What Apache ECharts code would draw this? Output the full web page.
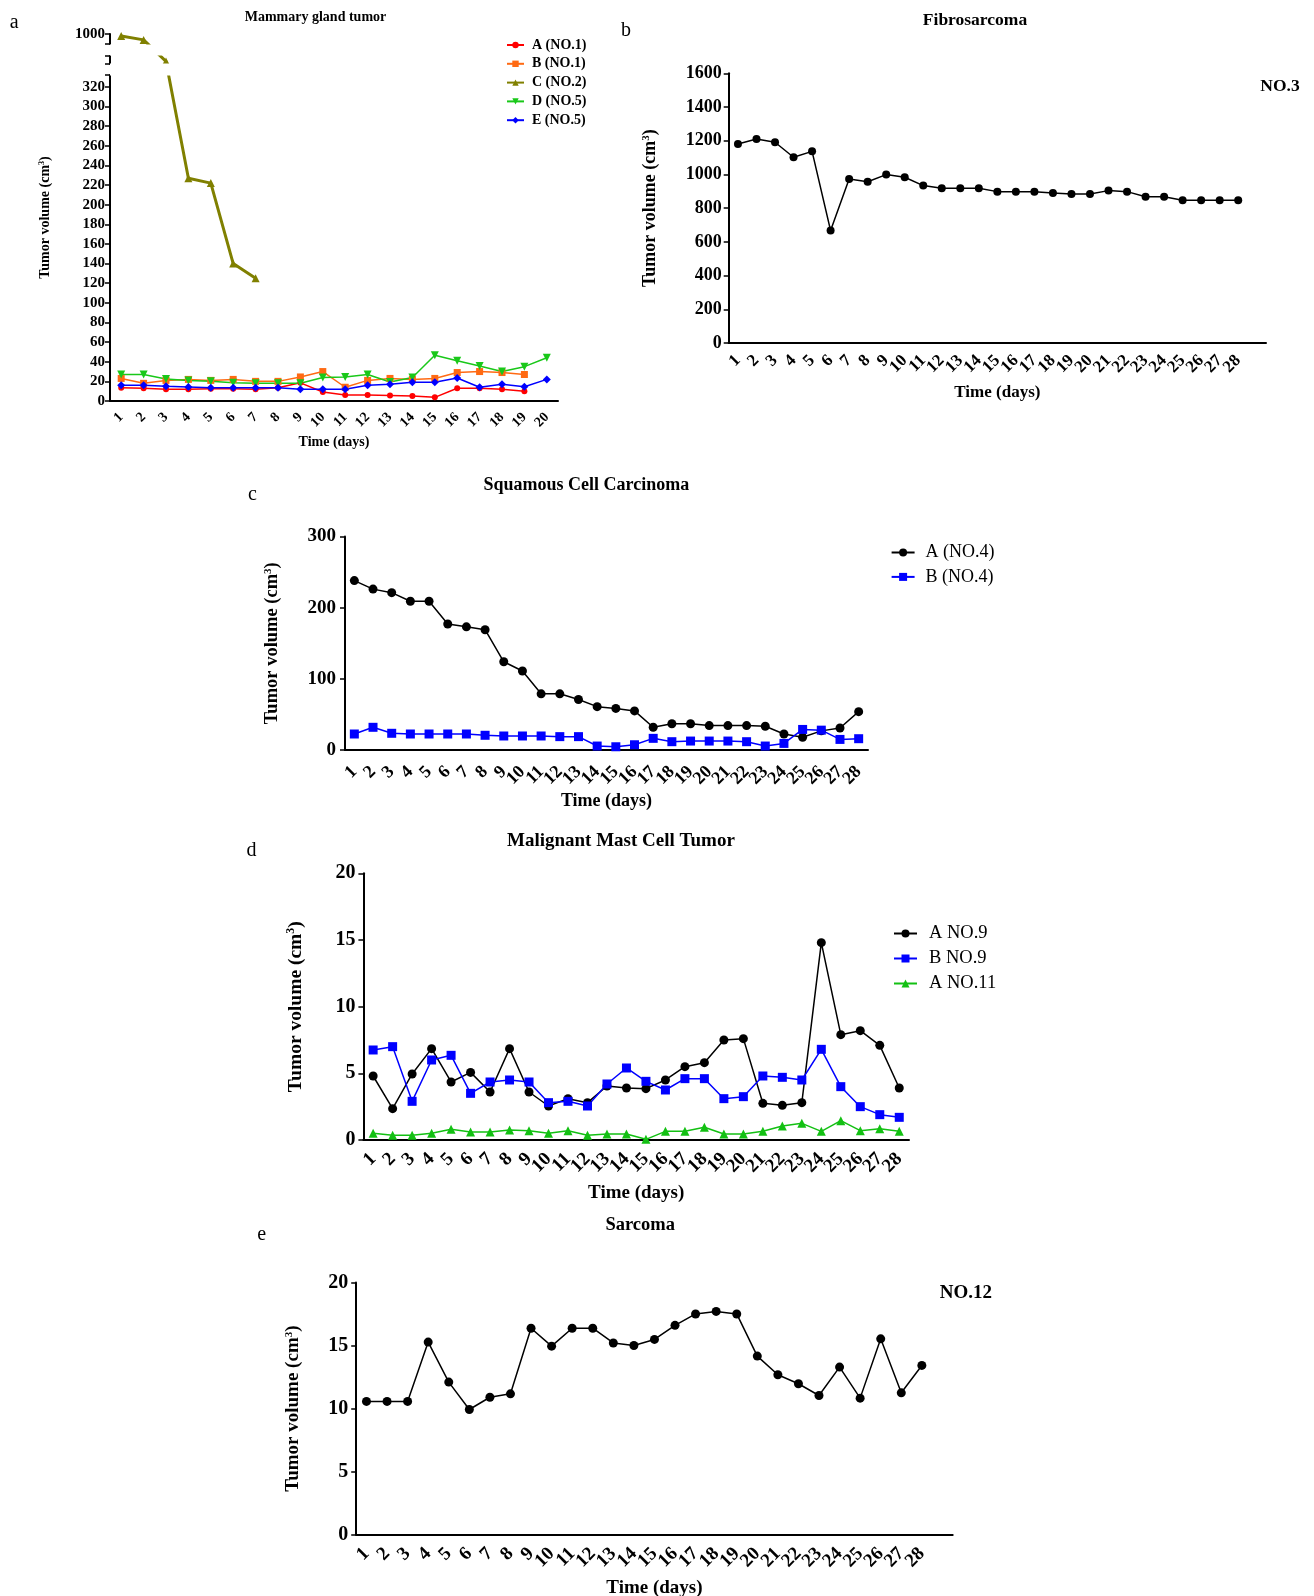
<!DOCTYPE html>
<html><head><meta charset="utf-8">
<script src="https://cdn.jsdelivr.net/npm/echarts@6/dist/echarts.min.js"></script>
<style>html,body{margin:0;padding:0;background:#fff}#c{width:1314px;height:1596px}</style>
</head><body><div id="c"></div>
<script>
const F = '"Liberation Serif","Times New Roman",serif';

// ---- data ----
const days20 = ['1','2','3','4','5','6','7','8','9','10','11','12','13','14','15','16','17','18','19','20'];
const days28 = ['1','2','3','4','5','6','7','8','9','10','11','12','13','14','15','16','17','18','19','20','21','22','23','24','25','26','27','28'];

// a: Mammary gland tumor
const aTicks = [0,20,40,60,80,100,120,140,160,180,200,220,240,260,280,300,320,1000];
const aA = [13.6,13,12,12,12.5,12.5,12,13.6,18.5,9.2,6,6,5.5,5,3.7,13,13,12,10];
const aB = [23,18,21,22,21,22,20,20,24.5,30,14,21,23,22,23,29,30,29,27];
const aC = [998,994,602,227,222,140,125];
const aD = [27,27,22.5,21,20,18.7,18,18,18,24,24.5,27,19.4,24,46.6,41,35.7,30,35,44];
const aE = [16,16,15,14.3,13.6,13.6,13.6,13.6,12,12,12,16,17,19,19,23.5,14,17,14.6,22];

// b: Fibrosarcoma
const bV = [1181,1210,1191,1102,1137,667,973,957,999,983,934,918,918,918,898,898,898,890,884,884,904,898,868,868,847,847,847,847];

// c: Squamous Cell Carcinoma
const cA = [238,226,221,209,209,177,173,169,124,111,79,79,71,61,58.5,55,32,37,37,34.4,34.4,34.4,33.5,22.6,18,27,31,54];
const cB = [22.6,32,23.6,22.6,22.6,22.6,22.6,20.8,19.8,19.8,19.8,18.9,18.9,5.7,4.7,7.5,16.5,11.8,12.7,12.7,12.7,11.8,5.7,9.4,29,28,15,16];

// d: Malignant Mast Cell Tumor
const dA = [4.8,2.35,4.95,6.85,4.35,5.07,3.6,6.85,3.6,2.55,3.1,2.8,4.05,3.9,3.85,4.5,5.5,5.8,7.5,7.6,2.75,2.6,2.8,14.8,7.9,8.2,7.1,3.9];
const dB = [6.75,7.0,2.9,6.0,6.35,3.5,4.35,4.5,4.35,2.8,2.9,2.55,4.2,5.4,4.4,3.75,4.6,4.6,3.1,3.25,4.8,4.7,4.5,6.8,4.0,2.5,1.9,1.7];
const dC = [0.5,0.35,0.35,0.5,0.8,0.6,0.6,0.75,0.7,0.5,0.7,0.35,0.45,0.45,0.05,0.65,0.65,0.95,0.45,0.45,0.65,1.05,1.25,0.65,1.45,0.7,0.85,0.65];

// e: Sarcoma
const eV = [10.57,10.57,10.57,15.27,12.1,9.93,10.9,11.17,16.37,14.95,16.37,16.37,15.2,15.0,15.48,16.6,17.5,17.7,17.5,14.16,12.68,11.97,11.04,13.29,10.83,15.53,11.25,13.42];

// ---- helpers ----
const plain = v => String(v);

function xAx(gi, cats, fs, margin, gap) {
  return {
    type: 'category', gridIndex: gi, data: cats, boundaryGap: true,
    name: 'Time (days)', nameLocation: 'middle', nameGap: gap,
    nameTextStyle: {fontFamily: F, fontWeight: 'bold', fontSize: fs, color: '#000'},
    axisLine: {onZero: false, lineStyle: {color: '#000', width: 2}},
    axisTick: {alignWithLabel: true, interval: (i, v) => v !== '', length: 5, lineStyle: {color: '#000', width: 1.5}},
    axisLabel: {interval: 0, rotate: 45, margin: margin, hideOverlap: false,
      fontFamily: F, fontWeight: 'bold', fontSize: fs, color: '#000'},
    splitLine: {show: false}
  };
}
function yAx(gi, extra, fs, nfs, gap, margin) {
  const o = {
    type: 'value', gridIndex: gi,
    name: 'Tumor volume (cm{s|3})', nameLocation: 'middle', nameRotate: 90, nameGap: gap,
    nameTextStyle: {fontFamily: F, fontWeight: 'bold', fontSize: nfs, color: '#000',
      rich: {s: {fontFamily: F, fontWeight: 'bold', fontSize: Math.round(nfs * 0.6), color: '#000', padding: [0, 0, Math.round(nfs * 0.45), 0]}}},
    axisLine: {show: true, lineStyle: {color: '#000', width: 2}},
    axisTick: {show: true, length: 5, lineStyle: {color: '#000', width: 1.5}},
    axisLabel: {formatter: plain, fontFamily: F, fontWeight: 'bold', fontSize: fs, color: '#000', margin: margin,
      showMinLabel: true, showMaxLabel: true},
    splitLine: {show: false}
  };
  Object.keys(extra).forEach(k => {
    if (k === 'axisLabel' || k === 'axisTick') o[k] = Object.assign(o[k], extra[k]);
    else o[k] = extra[k];
  });
  return o;
}
function ln(name, xi, vals, color, symbol, size, width, extra) {
  return Object.assign({
    type: 'line', name: name, xAxisIndex: xi, yAxisIndex: xi,
    data: vals, symbol: symbol, symbolSize: size,
    showSymbol: true, showAllSymbol: true,
    lineStyle: {color: color, width: width}, itemStyle: {color: color},
    emphasis: {disabled: true}
  }, extra || {});
}
function txt(x, y, t, size, bold) {
  return {type: 'text', x: x, y: y, style: {text: t, fontFamily: F, fontSize: size,
    fontWeight: bold ? 'bold' : 'normal', fill: '#000', align: 'center', verticalAlign: 'middle'}};
}

const chart = echarts.init(document.getElementById('c'), null, {renderer: 'canvas'});
chart.setOption({
  animation: false,
  backgroundColor: '#fff',
  grid: [
    {left: 110, top: 34, width: 448, height: 367, outerBoundsMode: 'none'},
    {left: 728.7, top: 73.3, width: 537.3, height: 269.7, outerBoundsMode: 'none'},
    {left: 345, top: 536.4, width: 523, height: 213.7, outerBoundsMode: 'none'},
    {left: 363.4, top: 873.3, width: 545.6, height: 266.7, outerBoundsMode: 'none'},
    {left: 356.2, top: 1282.4, width: 596.5, height: 252.4, outerBoundsMode: 'none'}
  ],
  xAxis: [
    xAx(0, days20, 14, 14, 34),
    xAx(1, days28.concat(['']), 17, 15, 41),
    xAx(2, days28, 18, 19, 42),
    xAx(3, days28, 19, 16, 44),
    xAx(4, days28.concat(['']), 19, 16, 44)
  ],
  yAxis: [
    yAx(0, {min: 0, max: 1000,
      breaks: [{start: 332, end: 600, gap: '3.2%'}, {start: 608, end: 990, gap: '3.2%'}],
      breakArea: {show: true, expandOnClick: false, zigzagAmplitude: 0, zigzagZ: 100,
        itemStyle: {color: '#fff', borderWidth: 0, borderColor: '#fff', opacity: 1}},
      axisLabel: {customValues: aTicks},
      axisTick: {customValues: aTicks.concat([332, 600, 608, 990])}
    }, 15, 14, 58, 5),
    yAx(1, {min: 0, max: 1600, interval: 200}, 18, 18, 69, 7),
    yAx(2, {min: 0, max: 300, interval: 100}, 19, 18.5, 63, 9),
    yAx(3, {min: 0, max: 20, interval: 5}, 20, 19.5, 57, 8),
    yAx(4, {min: 0, max: 20, interval: 5}, 20, 19, 53, 8)
  ],
  legend: [
    {data: ['A (NO.1)', 'B (NO.1)', 'C (NO.2)', 'D (NO.5)', 'E (NO.5)'], orient: 'vertical', z: 200,
      left: 501, top: 33, itemWidth: 17, itemHeight: 8, itemGap: 4.8, selectedMode: false,
      textStyle: {fontFamily: F, fontWeight: 'bold', fontSize: 14, lineHeight: 14, color: '#000', padding: [0, 0, 0, 3]}},
    {data: ['A (NO.4)', 'B (NO.4)'], orient: 'vertical', z: 200,
      left: 885.6, top: 538.5, itemWidth: 23, itemHeight: 10, itemGap: 6.4, selectedMode: false,
      textStyle: {fontFamily: F, fontSize: 18, lineHeight: 18, color: '#000', padding: [0, 0, 0, 6]}},
    {data: ['A NO.9', 'B NO.9', 'A NO.11'], orient: 'vertical', z: 200,
      left: 888, top: 919, itemWidth: 23, itemHeight: 10, itemGap: 6, selectedMode: false,
      textStyle: {fontFamily: F, fontSize: 18.5, lineHeight: 19, color: '#000', padding: [0, 0, 0, 7]}}
  ],
  series: [
    ln('A (NO.1)', 0, aA, '#ff0000', 'circle', 6, 1.5),
    ln('B (NO.1)', 0, aB, '#ff6a13', 'rect', 7, 1.5),
    ln('C (NO.2)', 0, aC, '#808000', 'triangle', 8, 3),
    ln('D (NO.5)', 0, aD, '#19c819', 'triangle', 8, 1.5, {symbolRotate: 180}),
    ln('E (NO.5)', 0, aE, '#0000ff', 'diamond', 8, 1.5),
    ln('NO.3', 1, bV, '#000', 'circle', 8, 1.5),
    ln('A (NO.4)', 2, cA, '#000', 'circle', 9, 1.5),
    ln('B (NO.4)', 2, cB, '#0000ff', 'rect', 9, 1.5),
    ln('A NO.9', 3, dA, '#000', 'circle', 9, 1.5),
    ln('B NO.9', 3, dB, '#0000ff', 'rect', 9, 1.5),
    ln('A NO.11', 3, dC, '#13c013', 'triangle', 9, 1.5),
    ln('NO.12', 4, eV, '#000', 'circle', 9, 1.5)
  ],
  graphic: [
    txt(14.2, 22.4, 'a', 20, false),
    txt(315.5, 17.3, 'Mammary gland tumor', 14, true),
    txt(626, 30.5, 'b', 20, false),
    txt(975, 20.4, 'Fibrosarcoma', 17.5, true),
    txt(1280, 86.5, 'NO.3', 17.5, true),
    txt(252.4, 494.6, 'c', 20, false),
    txt(586.3, 485.5, 'Squamous Cell Carcinoma', 18, true),
    txt(251.4, 851, 'd', 20, false),
    txt(620.9, 840.7, 'Malignant Mast Cell Tumor', 19, true),
    txt(261.6, 1234.6, 'e', 20, false),
    txt(640.2, 1225.4, 'Sarcoma', 18.5, true),
    txt(965.9, 1292.6, 'NO.12', 19, true)
  ]
});
</script></body></html>
